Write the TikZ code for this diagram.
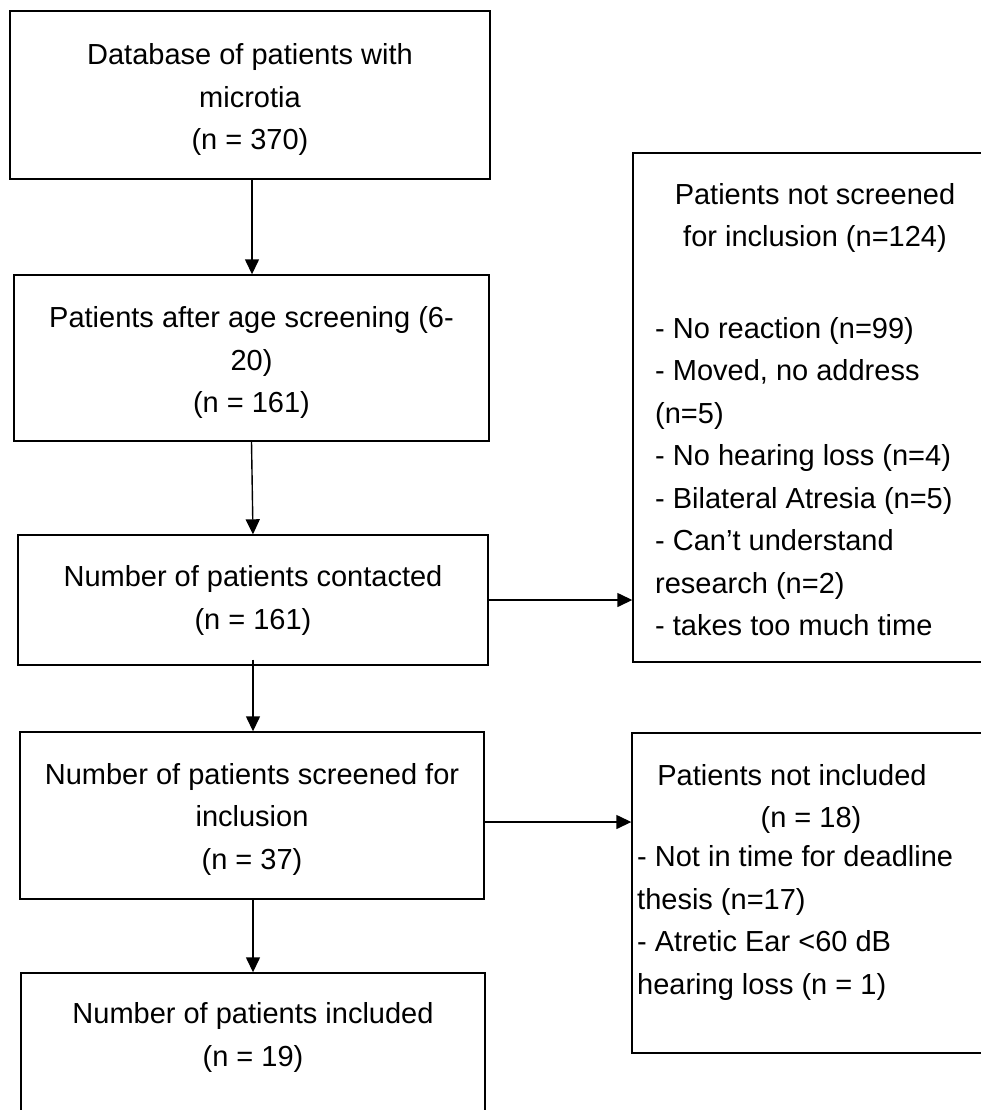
\documentclass[tikz,border=0pt]{standalone}
\usepackage{fontspec}
\setmainfont{Liberation Sans}
\usetikzlibrary{arrows.meta}
\tikzset{
  boxshape/.style={draw=black, line width=1.4pt, rectangle, inner sep=0pt},
  txt/.style={inner sep=0pt, font=\fontsize{29}{42.5}\selectfont},
  arr/.style={line width=1.4pt, -{Triangle[length=15pt,width=14pt]}}
}
\begin{document}
\begin{tikzpicture}[x=1pt,y=-1pt]
\useasboundingbox (0,0) rectangle (981,1110);
\clip (0,0) rectangle (981,1110);
\fill[white] (0,0) rectangle (981,1110);
% left column boxes
\node[boxshape, minimum width=480pt, minimum height=168pt] (b1) at (250,95) {};
\node[boxshape, minimum width=475pt, minimum height=166pt] (b2) at (251.5,358) {};
\node[boxshape, minimum width=470pt, minimum height=130pt] (b3) at (253,600) {};
\node[boxshape, minimum width=464pt, minimum height=167pt] (b4) at (252,815.5) {};
\node[boxshape, minimum width=464pt, minimum height=160pt] (b5) at (253,1053) {};
% right boxes (cut by the right edge)
\node[boxshape, minimum width=380pt, minimum height=509pt] (bA) at (823,407.5) {};
\node[boxshape, minimum width=380pt, minimum height=320pt] (bB) at (822,893) {};
% texts
\node[txt, align=center] (t1) at (250,99.5) {Database of patients with\\microtia\\(n = 370)};
\node[txt, align=center] (t2) at (251.5,362.5) {Patients after age screening (6-\\20)\\(n = 161)};
\node[txt, align=center] (t3) at (253,600.5) {Number of patients contacted\\(n = 161)};
\node[txt, align=center] (t4) at (252,819) {Number of patients screened for\\inclusion\\(n = 37)};
\node[txt, align=center] (t5) at (253,1037.5) {Number of patients included\\(n = 19)};
\node[txt, align=center] (tA1) at (815,218) {Patients not screened\\for inclusion (n=124)};
\node[txt, align=left, anchor=west] (tA2) at (655,476.5) {- No reaction (n=99)\\- Moved, no address\\(n=5)\\- No hearing loss (n=4)\\- Bilateral Atresia (n=5)\\- Can’t understand\\research (n=2)\\- takes too much time};
\node[txt] (tB1) at (792,775) {Patients not included};
\node[txt] (tB2) at (811,820) {(n = 18)};
\node[txt, align=left, anchor=west] (tB3) at (637,923) {- Not in time for deadline\\thesis (n=17)\\- Atretic Ear <60 dB\\hearing loss (n = 1)};
% connectors
\draw[arr] (b1.south -| 252,0) -- (b2.north -| 252,0);
\draw[arr] (b2.south) -- (b3.north);
\draw[arr] ([yshift=6pt]b3.south) -- (b4.north -| b3.south);
\draw[arr] (b4.south -| b5.north) -- (b5.north);
\draw[arr] (b3.east) -- (b3.east -| bA.west);
\draw[arr] ([yshift=-6.5pt]b4.east) coordinate (aB) -- (aB -| bB.west);
\end{tikzpicture}
\end{document}
